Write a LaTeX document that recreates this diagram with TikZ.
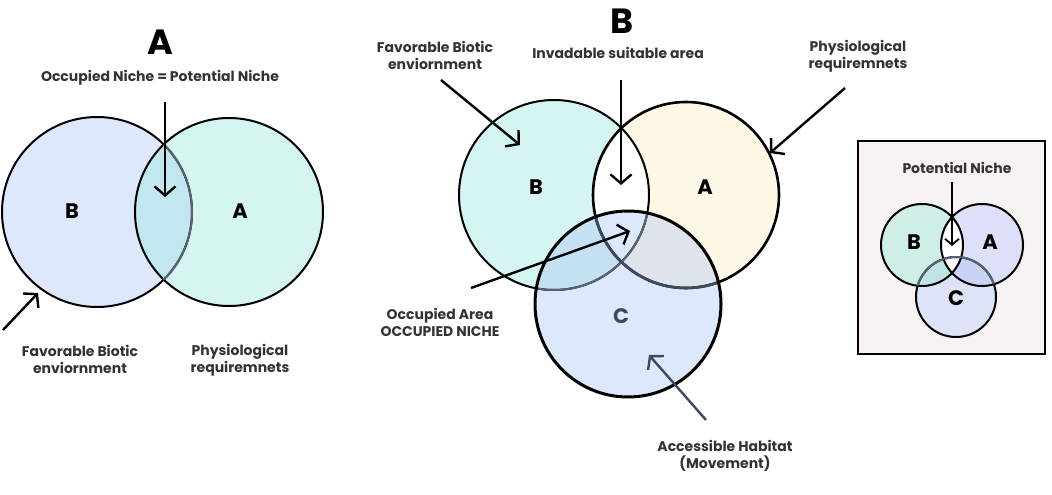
\documentclass[tikz,border=0pt]{standalone}
\usepackage{fontspec}
\setmainfont{Poppins}
\usetikzlibrary{arrows.meta}
\definecolor{lblgray}{HTML}{333333}
\definecolor{cgray}{HTML}{3D4A5C}
\definecolor{blueA}{HTML}{DDE8FC}
\definecolor{tealA}{HTML}{D5F5F0}
\definecolor{mixA}{HTML}{C0E8EE}
\definecolor{tealB}{HTML}{D4F5F1}
\definecolor{yelB}{HTML}{FEF8E6}
\definecolor{blueC}{HTML}{DCE8FC}
\definecolor{mixBC}{HTML}{C3E1F3}
\definecolor{mixAC}{HTML}{DFE3EA}
\definecolor{insetbg}{HTML}{F7F3F2}
\definecolor{tealI}{HTML}{CFEEE6}
\definecolor{lavI}{HTML}{DDE0F8}
\definecolor{cI}{HTML}{DDE4F8}
\definecolor{mixBCI}{HTML}{BFE4E8}
\definecolor{mixACI}{HTML}{C8D3F5}
\definecolor{edgegray}{HTML}{5A6272}
\begin{document}
\begin{tikzpicture}[x=1pt,y=-1pt,
  lbl/.style={font=\bfseries\fontsize{14}{17}\selectfont, text=lblgray, align=center},
  bigletter/.style={font=\bfseries\fontsize{35}{35}\selectfont},
  circlbl/.style={font=\bfseries\fontsize{21}{21}\selectfont},
  arr/.style={-{Straight Barb[length=9pt,width=21pt,line width=2.4pt]}, line width=2.4pt},
  arrthin/.style={-{Straight Barb[length=6pt,width=14pt,line width=1.8pt]}, line width=1.8pt}]
\useasboundingbox (0,0) rectangle (1052,495);

% ---------------- Panel A ----------------
\coordinate (aB) at (97,212);
\coordinate (aA) at (229,212);
\fill[blueA] (aB) circle[radius=95pt];
\fill[tealA] (aA) circle[radius=94pt];
\begin{scope}
  \clip (aB) circle[radius=95pt];
  \fill[mixA] (aA) circle[radius=94pt];
\end{scope}
\draw[line width=2pt] (aA) circle[radius=94pt];
\draw[line width=2pt] (aB) circle[radius=95pt];
\begin{scope}
  \clip (aA) circle[radius=94pt];
  \draw[line width=2pt, edgegray] (aB) circle[radius=95pt];
\end{scope}
\node[bigletter] (titleA) at (160,42) {A};
\node[lbl] (occA) at (160,78) {Occupied Niche = Potential Niche};
\node[circlbl] (labBa) at (72,211) {B};
\node[circlbl] (labAa) at (240,211) {A};
\node[lbl] (favA) at (80,359) {Favorable Biotic\\enviornment};
\node[lbl] (physA) at (240,360) {Physiological\\requiremnets};
\coordinate (a1s) at (165,102);
\coordinate (a1e) at (165,197);
\draw[arr] (a1s) -- (a1e);
\coordinate (a2s) at (3,330);
\coordinate (a2e) at (38,293);
\draw[arr] (a2s) -- (a2e);

% ---------------- Panel B ----------------
\coordinate (bB) at (554,195);
\coordinate (bA) at (686,195);
\coordinate (bC) at (628,304);
\fill[tealB] (bB) circle[radius=95pt];
\fill[yelB] (bA) circle[radius=93pt];
\begin{scope}
  \clip (bB) circle[radius=95pt];
  \fill[white] (bA) circle[radius=93pt];
\end{scope}
\fill[blueC] (bC) circle[radius=93pt];
\begin{scope}
  \clip (bC) circle[radius=93pt];
  \fill[mixBC] (bB) circle[radius=95pt];
  \fill[mixAC] (bA) circle[radius=93pt];
  \clip (bB) circle[radius=95pt];
  \fill[blueC] (bA) circle[radius=93pt];
\end{scope}
\draw[line width=2pt] (bB) circle[radius=95pt];
\draw[line width=2.6pt] (bA) circle[radius=93pt];
\begin{scope}
  \clip (bC) circle[radius=93pt];
  \draw[line width=2pt, edgegray] (bB) circle[radius=95pt];
  \draw[line width=2.6pt, cgray] (bA) circle[radius=93pt];
\end{scope}
\draw[line width=3pt] (bC) circle[radius=93pt];

\node[bigletter] (titleB) at (622,21) {B};
\node[lbl] (favB) at (435,55) {Favorable Biotic\\enviornment};
\node[lbl] (invB) at (618,53) {Invadable suitable area};
\node[lbl] (physB) at (858,56) {Physiological\\requiremnets};
\node[circlbl] (labBb) at (536,187) {B};
\node[circlbl] (labAb) at (705,187) {A};
\node[circlbl, text=cgray] (labCb) at (621,316) {C};
\node[lbl] (occB) at (440,322) {Occupied Area\\OCCUPIED NICHE};
\node[lbl] (accB) at (725,456) {Accessible Habitat\\(Movement)};

\coordinate (b1s) at (441,80);
\coordinate (b1e) at (520,145);
\draw[arr] (b1s) -- (b1e);
\coordinate (b2s) at (621,80);
\coordinate (b2e) at (621,185);
\draw[arr] (b2s) -- (b2e);
\coordinate (b3s) at (845,88);
\coordinate (b3e) at (770,153);
\draw[arr] (b3s) -- (b3e);
\coordinate (b4s) at (471,288);
\coordinate (b4e) at (630,231);
\draw[arr] (b4s) -- (b4e);
\coordinate (b5s) at (706,420);
\coordinate (b5e) at (649,355);
\draw[arr, cgray] (b5s) -- (b5e);

% ---------------- Inset ----------------
\node[draw=black, line width=1.2pt, fill=insetbg, minimum width=187pt, minimum height=213pt, inner sep=0pt] (inset) at (951.5,247.5) {};
\coordinate (iB) at (922,245);
\coordinate (iA) at (982,245);
\coordinate (iC) at (956,297);
\fill[tealI] (iB) circle[radius=41pt];
\fill[lavI] (iA) circle[radius=41pt];
\fill[cI] (iC) circle[radius=40pt];
\begin{scope}
  \clip (iC) circle[radius=40pt];
  \fill[mixBCI] (iB) circle[radius=41pt];
  \fill[mixACI] (iA) circle[radius=41pt];
\end{scope}
\begin{scope}
  \clip (iB) circle[radius=41pt];
  \fill[white] (iA) circle[radius=41pt];
\end{scope}
\draw[line width=2pt] (iB) circle[radius=41pt];
\draw[line width=2pt] (iA) circle[radius=41pt];
\draw[line width=2pt] (iC) circle[radius=40pt];
\begin{scope}
  \clip (iB) circle[radius=41pt] (iA) circle[radius=41pt];
  \draw[line width=2pt, edgegray] (iC) circle[radius=40pt];
\end{scope}
\node[lbl] (potI) at (957,168) {Potential Niche};
\node[circlbl] (labBi) at (914,242) {B};
\node[circlbl] (labAi) at (990,242) {A};
\node[circlbl] (labCi) at (956,298) {C};
\coordinate (i1s) at (952,182);
\coordinate (i1e) at (952,246);
\draw[arrthin] (i1s) -- (i1e);
\end{tikzpicture}
\end{document}
